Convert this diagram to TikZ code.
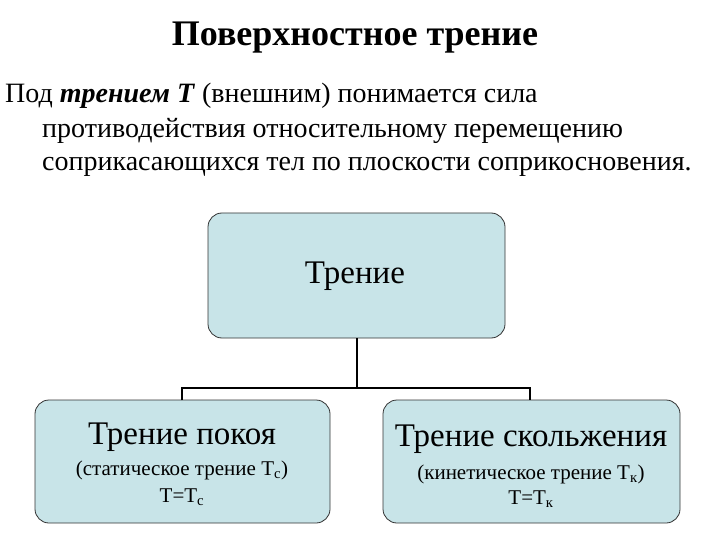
\documentclass[tikz,border=0pt]{standalone}
\usepackage{fontspec}
\setmainfont{Liberation Serif}
\definecolor{boxfill}{RGB}{200,228,232}
\begin{document}
\begin{tikzpicture}[x=1pt,y=-1pt,
 box/.style={draw=black!80,line width=0.8pt,fill=boxfill,rounded corners=14pt},
 para/.style={anchor=base west,inner sep=0pt,font=\fontsize{28}{32}\selectfont},
 big/.style={inner sep=0pt,font=\fontsize{33}{38}\selectfont},
 small/.style={inner sep=0pt,font=\fontsize{21}{25}\selectfont}]
\useasboundingbox (0,0) rectangle (720,540);
\node[inner sep=0pt,font=\fontsize{36}{40}\selectfont\bfseries] (title) at (355,38) {Поверхностное трение};
\node[para] (p1) at (5,103) {Под \textbf{\textit{трением Т}} (внешним) понимается сила};
\node[para] (p2) at (42,138) {противодействия относительному перемещению};
\node[para] (p3) at (42,171) {соприкасающихся тел по плоскости соприкосновения.};
\path[box] (208,213) rectangle (505,338);
\coordinate (topb) at (357,338);
\node[big] (tr) at (355,276) {Трение};
\path[box] (35,400) rectangle (330,523);
\path[box] (383,400) rectangle (680,523);
\coordinate (mid) at (357,388);
\coordinate (lt) at (182,400);
\coordinate (rt) at (530,400);
\draw[line width=1.5pt] (topb) -- (mid);
\draw[line width=1.5pt] (lt) |- (mid) -| (rt);
\node[big] (l1) at (182,437) {Трение покоя};
\node[small] (l2) at (182,470) {(статическое трение Т\textsubscript{с})};
\node[small] (l3) at (182,497) {Т=Т\textsubscript{с}};
\node[big] (r1) at (531,439) {Трение скольжения};
\node[small] (r2) at (531,474) {(кинетическое трение Т\textsubscript{к})};
\node[small] (r3) at (531,499) {Т=Т\textsubscript{к}};
\end{tikzpicture}
\end{document}
